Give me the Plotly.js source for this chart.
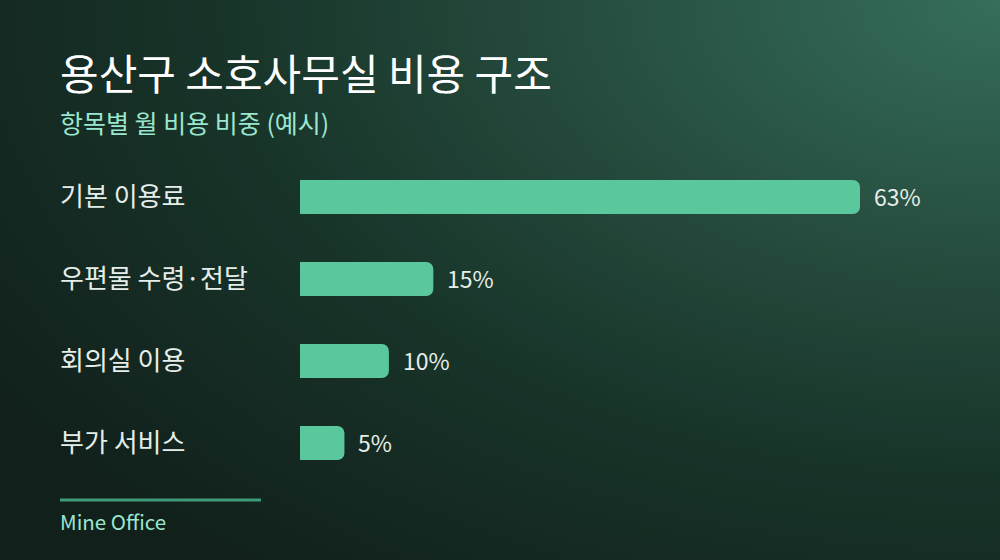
<!DOCTYPE html>
<html>
<head>
<meta charset="utf-8">
<script src="https://cdn.plot.ly/plotly-3.0.1.min.js"></script>
<style>
html,body{margin:0;padding:0;width:1000px;height:560px;overflow:hidden;}
body{background:radial-gradient(ellipse 120% 130% at 100% 0%, #356e5a 0%, #264d3f 35%, #183429 65%, #11201b 100%);}
#chart{width:1000px;height:560px;}
</style>
</head>
<body>
<div id="chart"></div>
<script>
const categories = ["기본 이용료", "우편물 수령·전달", "회의실 이용", "부가 서비스"];
const values = [63, 15, 10, 5];
const valueLabels = ["63%", "15%", "10%", "5%"];
const titleText = "용산구 소호사무실 비용 구조";
const subtitleText = "항목별 월 비용 비중 (예시)";
const sourceText = "Mine Office";

const FONT = "'Noto Sans CJK KR', 'Noto Sans', sans-serif";
const L = 300, R = 100, T = 156, B = 76, W = 1000, H = 560;
const pw = W - L - R, ph = H - T - B;
const px = x => (x - L) / pw;
const py = y => (H - B - y) / ph;

const trace = {
  type: "bar",
  orientation: "h",
  x: values,
  y: categories,
  width: 0.415,
  marker: {color: "#5bc79c", line: {width: 0}},
  hoverinfo: "skip"
};

const annotations = [];
categories.forEach((c, i) => {
  annotations.push({
    xref: "paper", yref: "y", x: px(58), y: c, xanchor: "left", yanchor: "middle",
    text: c, showarrow: false, font: {family: FONT, size: 26, color: "#e6eee9"}, yshift: 3
  });
  annotations.push({
    xref: "x", yref: "y", x: values[i], y: c, xanchor: "left", yanchor: "middle",
    text: valueLabels[i], showarrow: false, xshift: 12, yshift: 1,
    font: {family: FONT, size: 23, color: "#e6eee9"}
  });
});
annotations.push({
  xref: "paper", yref: "paper", x: px(58), y: py(71), xanchor: "left", yanchor: "middle",
  text: titleText, showarrow: false, font: {family: FONT, size: 42, color: "#ffffff", weight: 400}
});
annotations.push({
  xref: "paper", yref: "paper", x: px(58), y: py(122), xanchor: "left", yanchor: "middle",
  text: subtitleText, showarrow: false, font: {family: FONT, size: 25, color: "#9be6cf"}
});
annotations.push({
  xref: "paper", yref: "paper", x: px(58), y: py(521), xanchor: "left", yanchor: "middle",
  text: sourceText, showarrow: false, font: {family: FONT, size: 20.5, color: "#9be6cf"}
});

const layout = {
  width: W, height: H,
  margin: {l: L, r: R, t: T, b: B, pad: 0},
  paper_bgcolor: "rgba(0,0,0,0)",
  plot_bgcolor: "rgba(0,0,0,0)",
  barcornerradius: 7,
  showlegend: false,
  xaxis: {range: [0, pw / (560 / 63)], visible: false, fixedrange: true},
  yaxis: {range: [3.5, -0.5], visible: false, fixedrange: true, type: "category"},
  annotations: annotations,
  shapes: [{
    type: "line", xref: "paper", yref: "paper",
    x0: px(60), x1: px(261), y0: py(500), y1: py(500),
    line: {color: "#3f9a78", width: 3}
  }]
};

Plotly.newPlot("chart", [trace], layout, {displayModeBar: false, staticPlot: true});
</script>
</body>
</html>
